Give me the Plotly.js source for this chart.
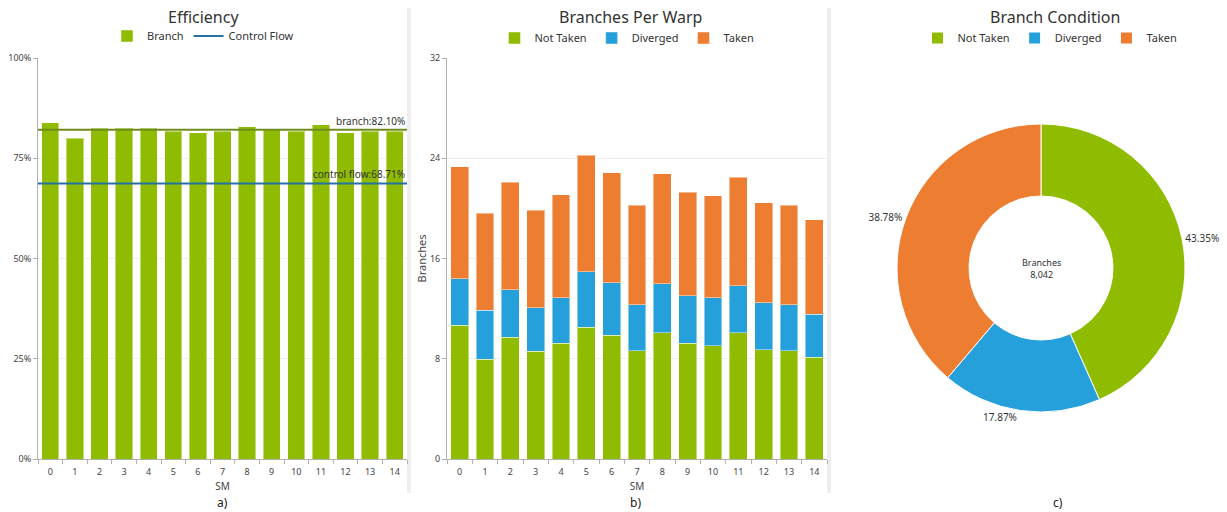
<!DOCTYPE html>
<html>
<head>
<meta charset="utf-8">
<script src="https://cdn.plot.ly/plotly-3.0.1.min.js"></script>
<style>html,body{margin:0;padding:0;background:#fff}#chart{width:1227px;height:512px}</style>
</head>
<body>
<div id="chart"></div>
<script>
// ---- data ----
const smLabels = ['0','1','2','3','4','5','6','7','8','9','10','11','12','13','14'];
const branchEfficiency = [83.9, 80.0, 82.5, 82.5, 82.5, 81.7, 81.4, 81.7, 82.8, 82.2, 81.7, 83.4, 81.4, 81.7, 81.7];
const branchAvg = 82.10;
const controlFlowAvg = 68.71;
const notTakenPerWarp = [10.69, 7.98, 9.71, 8.59, 9.23, 10.53, 9.87, 8.62, 10.08, 9.23, 9.02, 10.08, 8.70, 8.62, 8.12];
const divergedPerWarp = [3.68, 3.89, 3.80, 3.49, 3.64, 4.42, 4.18, 3.70, 3.91, 3.80, 3.83, 3.73, 3.75, 3.70, 3.43];
const takenPerWarp    = [8.96, 7.76, 8.59, 7.79, 8.22, 9.29, 8.78, 7.93, 8.76, 8.25, 8.17, 8.67, 8.01, 7.93, 7.55];
const conditionLabels = ['Not Taken', 'Diverged', 'Taken'];
const conditionCounts = [3486, 1437, 3119];
const effTicks = [0, 25, 50, 75, 100];
const effTickText = ['0%', '25%', '50%', '75%', '100%'];
const warpTicks = [0, 8, 16, 24, 32];

// ---- style ----
const GREEN = '#8fbc00', BLUE = '#26a0da', ORANGE = '#ed7d31';
const FONT = 'Noto Sans, Open Sans, sans-serif';
const TXT = '#333333';
const W = 1227, H = 512;
const px = v => v / W, py = v => 1 - v / H;
const barLine = {color: 'rgba(255,255,255,0.45)', width: 1};

const total = conditionCounts.reduce((a, b) => a + b, 0);

const traces = [
  {type: 'bar', name: 'Branch', x: smLabels, y: branchEfficiency, xaxis: 'x', yaxis: 'y',
   marker: {color: GREEN, line: barLine}, legend: 'legend'},
  {type: 'scatter', mode: 'lines', name: 'Control Flow', x: [null], y: [null], xaxis: 'x', yaxis: 'y',
   line: {color: '#2471a3', width: 2}, legend: 'legend'},
  {type: 'bar', name: 'Not Taken', x: smLabels, y: notTakenPerWarp, xaxis: 'x2', yaxis: 'y2',
   marker: {color: GREEN, line: barLine}, legend: 'legend2'},
  {type: 'bar', name: 'Diverged', x: smLabels, y: divergedPerWarp, xaxis: 'x2', yaxis: 'y2',
   marker: {color: BLUE, line: barLine}, legend: 'legend2'},
  {type: 'bar', name: 'Taken', x: smLabels, y: takenPerWarp, xaxis: 'x2', yaxis: 'y2',
   marker: {color: ORANGE, line: barLine}, legend: 'legend2'},
  {type: 'pie', labels: conditionLabels, values: conditionCounts, hole: 0.5, sort: false,
   direction: 'clockwise', rotation: 0,
   marker: {colors: [GREEN, BLUE, ORANGE], line: {color: '#ffffff', width: 1}},
   textposition: 'outside', texttemplate: '%{percent:.2%}',
   textfont: {size: 10, color: TXT, family: FONT},
   domain: {x: [px(1041 - 144), px(1041 + 144)], y: [py(268 + 144), py(268 - 144)]},
   legend: 'legend3'}
];

const axisCommon = {
  showline: true, linecolor: '#b0b0b0', linewidth: 1,
  ticks: 'outside', tickcolor: '#b0b0b0', ticklen: 4,
  tickfont: {size: 9, color: '#444', family: FONT},
  zeroline: false
};

const xCommon = Object.assign({}, axisCommon, {
  type: 'category', tickson: 'boundaries', showgrid: false, ticklabelstandoff: 4,
  title: {text: 'SM', font: {size: 10, color: '#444', family: FONT}, standoff: 6}
});
const yCommon = Object.assign({}, axisCommon, {
  showgrid: true, gridcolor: '#eeeeee', gridwidth: 1
});

const legendCommon = {
  orientation: 'h', xanchor: 'center', yanchor: 'middle', traceorder: 'normal',
  font: {size: 11, color: TXT, family: FONT}, itemwidth: 30, tracegroupgap: 0,
  bgcolor: 'rgba(0,0,0,0)'
};

const layout = {
  width: W, height: H,
  margin: {l: 0, r: 0, t: 0, b: 0},
  paper_bgcolor: '#ffffff', plot_bgcolor: '#ffffff',
  font: {family: FONT, color: TXT},
  barmode: 'stack', bargap: 0.3,
  showlegend: true,
  xaxis: Object.assign({}, xCommon, {domain: [px(38), px(407)], anchor: 'y'}),
  yaxis: Object.assign({}, yCommon, {domain: [py(459), py(58)], anchor: 'x', range: [0, 100],
    tickmode: 'array', tickvals: effTicks, ticktext: effTickText}),
  xaxis2: Object.assign({}, xCommon, {domain: [px(447), px(827)], anchor: 'y2'}),
  yaxis2: Object.assign({}, yCommon, {domain: [py(459), py(58)], anchor: 'x2', range: [0, 32],
    tickmode: 'array', tickvals: warpTicks,
    title: {text: 'Branches', font: {size: 11, color: '#444', family: FONT}, standoff: 1}}),
  legend: Object.assign({}, legendCommon, {x: px(203), y: py(36)}),
  legend2: Object.assign({}, legendCommon, {x: px(627), y: py(38)}),
  legend3: Object.assign({}, legendCommon, {x: px(1050), y: py(38)}),
  shapes: [
    {type: 'rect', xref: 'paper', yref: 'paper', x0: px(407), x1: px(411), y0: py(493), y1: py(8),
     fillcolor: '#efefef', line: {width: 0}, layer: 'below'},
    {type: 'rect', xref: 'paper', yref: 'paper', x0: px(827), x1: px(831), y0: py(493), y1: py(8),
     fillcolor: '#efefef', line: {width: 0}, layer: 'below'},
    {type: 'line', xref: 'x domain', yref: 'y', x0: 0, x1: 1, y0: branchAvg, y1: branchAvg,
     line: {color: '#6f8c1c', width: 2}},
    {type: 'line', xref: 'x domain', yref: 'y', x0: 0, x1: 1, y0: controlFlowAvg, y1: controlFlowAvg,
     line: {color: '#2471a3', width: 2}}
  ],
  annotations: [
    {text: 'Efficiency', xref: 'paper', yref: 'paper', x: px(203), y: py(17), showarrow: false,
     xanchor: 'center', yanchor: 'middle', font: {size: 16, color: TXT, family: FONT}},
    {text: 'Branches Per Warp', xref: 'paper', yref: 'paper', x: px(630), y: py(17), showarrow: false,
     xanchor: 'center', yanchor: 'middle', font: {size: 16, color: TXT, family: FONT}},
    {text: 'Branch Condition', xref: 'paper', yref: 'paper', x: px(1055), y: py(17), showarrow: false,
     xanchor: 'center', yanchor: 'middle', font: {size: 16, color: TXT, family: FONT}},
    {text: 'branch:' + branchAvg.toFixed(2) + '%', xref: 'x domain', yref: 'y', x: 1, y: branchAvg,
     xanchor: 'right', yanchor: 'bottom', showarrow: false, font: {size: 10, color: TXT, family: FONT}},
    {text: 'control flow:' + controlFlowAvg.toFixed(2) + '%', xref: 'x domain', yref: 'y', x: 1, y: controlFlowAvg,
     xanchor: 'right', yanchor: 'bottom', showarrow: false, font: {size: 10, color: TXT, family: FONT}},
    {text: 'Branches<br>' + total.toLocaleString('en-US'), xref: 'paper', yref: 'paper',
     x: px(1041), y: py(268), showarrow: false, xanchor: 'center', yanchor: 'middle',
     font: {size: 9, color: TXT, family: FONT}},
    {text: 'a)', xref: 'paper', yref: 'paper', x: px(222), y: py(502), showarrow: false,
     xanchor: 'center', yanchor: 'middle', font: {size: 12, color: '#222', family: FONT}},
    {text: 'b)', xref: 'paper', yref: 'paper', x: px(636), y: py(502), showarrow: false,
     xanchor: 'center', yanchor: 'middle', font: {size: 12, color: '#222', family: FONT}},
    {text: 'c)', xref: 'paper', yref: 'paper', x: px(1058), y: py(502), showarrow: false,
     xanchor: 'center', yanchor: 'middle', font: {size: 12, color: '#222', family: FONT}}
  ]
};

Plotly.newPlot('chart', traces, layout, {displayModeBar: false, staticPlot: true});
</script>
</body>
</html>
